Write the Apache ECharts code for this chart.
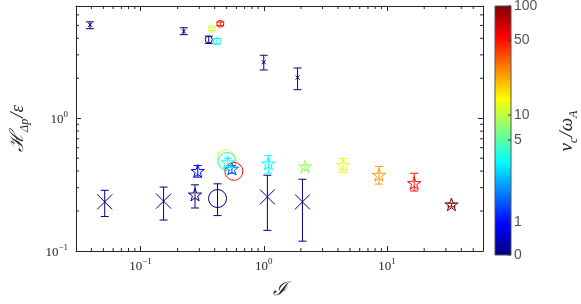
<!DOCTYPE html>
<html><head><meta charset="utf-8">
<script src="https://cdn.jsdelivr.net/npm/echarts@6/dist/echarts.min.js"></script>
<style>html,body{margin:0;padding:0;background:#fff}#c{width:581px;height:304px}</style>
</head><body><div id="c"></div>
<script>
// ---------------- data ----------------
// small "x" markers (upper group)
const smallX_I  = [0.039, 0.2245, 1.0, 1.88];
const smallX_H  = [5.05, 4.51, 2.64, 2.02];
const smallX_lo = [4.72, 4.26, 2.31, 1.64];
const smallX_hi = [5.32, 4.80, 2.98, 2.39];
const smallX_nu = [0, 0, 0, 0];

// small circles (upper group)
const smallO_I  = [0.358, 0.417, 0.381, 0.444];
const smallO_H  = [3.91, 3.80, 4.72, 5.14];
const smallO_lo = [3.66, 3.62, 4.58, 4.98];
const smallO_hi = [4.15, 3.98, 4.86, 5.30];
const smallO_nu = [0, 4, 12, 50];

// large "x" markers (lower group)
const bigX_I  = [0.0513, 0.154, 1.07, 2.06];
const bigX_H  = [0.2344, 0.2374, 0.2555, 0.2344];
const bigX_lo = [0.1817, 0.171, 0.143, 0.1186];
const bigX_hi = [0.2864, 0.303, 0.372, 0.347];
const bigX_nu = [0, 0, 0, 0];

// large circles (lower group)
const bigO_I  = [0.4217, 0.494, 0.503, 0.572];
const bigO_H  = [0.2483, 0.497, 0.472, 0.398];
const bigO_lo = [0.1848, 0.497, 0.472, 0.398];
const bigO_hi = [0.3206, 0.497, 0.472, 0.398];
const bigO_nu = [0, 16, 4, 50];

// pentagrams (lower group)
const star_I  = [0.277, 0.2914, 0.5515, 0.51, 1.089, 2.16, 4.40, 8.6, 16.6, 33.3];
const star_H  = [0.263, 0.396, 0.412, 0.46, 0.451, 0.4266, 0.4388, 0.370, 0.3206, 0.2218];
const star_lo = [0.2108, 0.36, 0.385, 0.43, 0.385, 0.41, 0.391, 0.319, 0.283, 0.215];
const star_hi = [0.315, 0.44, 0.44, 0.50, 0.523, 0.445, 0.497, 0.4335, 0.385, 0.229];
const star_nu = [0, 1, 2, 4, 4, 8, 16, 32, 50, 100];

// colour bar ticks (value and relative position along the bar)
const cbTickValues = [0, 1, 5, 10, 50, 100];
const cbTickPos    = [0, 0.133, 0.462, 0.562, 0.863, 1];

// ---------------- helpers ----------------
const AX = '#262626';
const SERIF = "'Liberation Serif','DejaVu Serif',serif";
const SANS = "'Liberation Sans','DejaVu Sans',sans-serif";

function nuToPos(nu) {
  const n = cbTickValues.length;
  if (nu <= cbTickValues[0]) return 0;
  if (nu >= cbTickValues[n - 1]) return 1;
  for (let i = 0; i < n - 1; i++) {
    if (nu <= cbTickValues[i + 1]) {
      const t = (nu - cbTickValues[i]) / (cbTickValues[i + 1] - cbTickValues[i]);
      return cbTickPos[i] + t * (cbTickPos[i + 1] - cbTickPos[i]);
    }
  }
  return 1;
}
function clamp(v) { return Math.max(0, Math.min(1, v)); }
function jet(p) {
  const r = clamp(1.5 - Math.abs(4 * p - 3));
  const g = clamp(1.5 - Math.abs(4 * p - 2));
  const b = clamp(1.5 - Math.abs(4 * p - 1));
  return 'rgb(' + Math.round(r * 255) + ',' + Math.round(g * 255) + ',' + Math.round(b * 255) + ')';
}

function starPoints(cx, cy, R) {
  const pts = [];
  const r = R * 0.382;
  for (let k = 0; k < 10; k++) {
    const a = -Math.PI / 2 + k * Math.PI / 5;
    const rr = k % 2 === 0 ? R : r;
    pts.push([cx + rr * Math.cos(a), cy + rr * Math.sin(a)]);
  }
  return pts;
}

function markerSeries(name, I, H, lo, hi, nu, shape, size) {
  return {
    name: name,
    type: 'custom',
    xAxisIndex: 0, yAxisIndex: 0,
    encode: { x: 0, y: 1 },
    data: I.map((x, i) => [x, H[i], lo[i], hi[i], nu[i]]),
    renderItem: function (params, api) {
      const x = api.value(0);
      const p = api.coord([x, api.value(1)]);
      const pl = api.coord([x, api.value(2)]);
      const ph = api.coord([x, api.value(3)]);
      const c = jet(nuToPos(api.value(4)));
      const st = { stroke: c, fill: 'none', lineWidth: 1 };
      const ch = [];
      if (Math.abs(pl[1] - ph[1]) > 0.5) {
        const cw = 4;
        ch.push({ type: 'line', shape: { x1: p[0], y1: pl[1], x2: p[0], y2: ph[1] }, style: st });
        ch.push({ type: 'line', shape: { x1: p[0] - cw, y1: pl[1], x2: p[0] + cw, y2: pl[1] }, style: st });
        ch.push({ type: 'line', shape: { x1: p[0] - cw, y1: ph[1], x2: p[0] + cw, y2: ph[1] }, style: st });
      }
      if (shape === 'x') {
        ch.push({ type: 'line', shape: { x1: p[0] - size, y1: p[1] - size, x2: p[0] + size, y2: p[1] + size }, style: st });
        ch.push({ type: 'line', shape: { x1: p[0] - size, y1: p[1] + size, x2: p[0] + size, y2: p[1] - size }, style: st });
      } else if (shape === 'circle') {
        ch.push({ type: 'circle', shape: { cx: p[0], cy: p[1], r: size }, style: st });
      } else {
        ch.push({ type: 'polygon', shape: { points: starPoints(p[0], p[1], size) }, style: st });
      }
      return { type: 'group', children: ch };
    }
  };
}

// minor ticks of the log axes (2..9 x 10^k)
const X_MIN = 0.03, X_MAX = 60, Y_MIN = 0.1, Y_MAX = 7;
function minorValues(a, b) {
  const out = [];
  for (let k = -3; k <= 3; k++) {
    for (let m = 2; m <= 9; m++) {
      const v = m * Math.pow(10, k);
      if (v > a * 1.0001 && v < b * 0.9999) out.push(v);
    }
  }
  return out;
}

function powFmt(v) {
  const l = Math.log10(v);
  const e = Math.round(l);
  if (Math.abs(l - e) > 1e-6) return '';
  return '{b|10}{s|' + (e < 0 ? '\u2212' + (-e) : e) + '}';
}
const powRich = {
  b: { fontFamily: SERIF, fontSize: 13, color: AX, verticalAlign: 'bottom', padding: [3, 0, 0, 0] },
  s: { fontFamily: SERIF, fontSize: 9, color: AX, verticalAlign: 'top' }
};

const chart = echarts.init(document.getElementById('c'), null, { renderer: 'canvas' });

const logAxisBase = {
  type: 'log', logBase: 10,
  axisLine: { show: true, lineStyle: { color: AX, width: 1 } },
  axisTick: { show: true, inside: true, length: 5, lineStyle: { color: AX } },
  splitLine: { show: false },
  minorTick: { show: false }
};

const option = {
  backgroundColor: '#fff',
  animation: false,
  grid: [
    { left: 67, right: 98, top: 6, bottom: 49 },
    { left: 495, width: 26, top: 6, height: 249 }
  ],
  xAxis: [
    Object.assign({}, logAxisBase, {
      gridIndex: 0, min: X_MIN, max: X_MAX, position: 'bottom',
      axisLabel: { formatter: powFmt, rich: powRich, margin: 6, showMinLabel: false, showMaxLabel: false },
      name: '\u2110', nameLocation: 'middle', nameGap: 29,
      nameTextStyle: { fontFamily: SERIF, fontSize: 19, fontStyle: 'italic', color: AX }
    }),
    Object.assign({}, logAxisBase, {
      gridIndex: 0, min: X_MIN, max: X_MAX, position: 'top', axisLabel: { show: false }
    }),
    { gridIndex: 1, type: 'value', min: 0, max: 1, show: false }
  ],
  yAxis: [
    Object.assign({}, logAxisBase, {
      gridIndex: 0, min: Y_MIN, max: Y_MAX, position: 'left',
      axisLabel: { formatter: powFmt, rich: powRich, margin: 8, showMinLabel: true, showMaxLabel: false },
      name: '{h|\u210B}{sub|\u0394p}{n|/\u03B5}', nameLocation: 'middle', nameGap: 45, nameRotate: 90,
      nameTextStyle: {
        color: AX,
        rich: {
          h: { fontFamily: SERIF, fontSize: 19, fontStyle: 'italic', color: AX, verticalAlign: 'top' },
          sub: { fontFamily: SERIF, fontSize: 12, fontStyle: 'italic', color: AX, verticalAlign: 'top', padding: [11, 1, 0, 0] },
          n: { fontFamily: SERIF, fontSize: 19, fontStyle: 'italic', color: AX, verticalAlign: 'top' }
        }
      }
    }),
    Object.assign({}, logAxisBase, {
      gridIndex: 0, min: Y_MIN, max: Y_MAX, position: 'right', axisLabel: { show: false }
    }),
    {
      gridIndex: 1, type: 'value', min: 0, max: 1, position: 'right',
      axisLine: { show: false }, axisTick: { show: false }, axisLabel: { show: false }, splitLine: { show: false },
      name: '{v|\u03BD}{sub|c}{v|/\u03C9}{sub|A}', nameLocation: 'middle', nameRotate: 90, nameGap: 46,
      nameTextStyle: {
        color: AX,
        rich: {
          v: { fontFamily: SERIF, fontSize: 19, fontStyle: 'italic', color: AX, verticalAlign: 'top' },
          sub: { fontFamily: SERIF, fontSize: 12, fontStyle: 'italic', color: AX, verticalAlign: 'top', padding: [11, 1, 0, 0] }
        }
      }
    }
  ],
  series: [
    // minor ticks on x
    {
      type: 'custom', xAxisIndex: 0, yAxisIndex: 0, silent: true, z: 5,
      data: minorValues(X_MIN, X_MAX).map(v => [v, Y_MIN]),
      renderItem: function (params, api) {
        const cs = params.coordSys;
        const p = api.coord([api.value(0), Y_MIN]);
        const st = { stroke: AX, lineWidth: 1 };
        return { type: 'group', children: [
          { type: 'line', shape: { x1: p[0], y1: cs.y + cs.height, x2: p[0], y2: cs.y + cs.height - 3 }, style: st },
          { type: 'line', shape: { x1: p[0], y1: cs.y, x2: p[0], y2: cs.y + 3 }, style: st }
        ] };
      }
    },
    // minor ticks on y
    {
      type: 'custom', xAxisIndex: 0, yAxisIndex: 0, silent: true, z: 5,
      data: minorValues(Y_MIN, Y_MAX).map(v => [X_MIN, v]),
      renderItem: function (params, api) {
        const cs = params.coordSys;
        const p = api.coord([X_MIN, api.value(1)]);
        const st = { stroke: AX, lineWidth: 1 };
        return { type: 'group', children: [
          { type: 'line', shape: { x1: cs.x, y1: p[1], x2: cs.x + 3, y2: p[1] }, style: st },
          { type: 'line', shape: { x1: cs.x + cs.width, y1: p[1], x2: cs.x + cs.width - 3, y2: p[1] }, style: st }
        ] };
      }
    },
    markerSeries('smallX', smallX_I, smallX_H, smallX_lo, smallX_hi, smallX_nu, 'x', 2),
    markerSeries('smallO', smallO_I, smallO_H, smallO_lo, smallO_hi, smallO_nu, 'circle', 3.5),
    markerSeries('bigX', bigX_I, bigX_H, bigX_lo, bigX_hi, bigX_nu, 'x', 7.5),
    markerSeries('bigO', bigO_I, bigO_H, bigO_lo, bigO_hi, bigO_nu, 'circle', 9),
    markerSeries('star', star_I, star_H, star_lo, star_hi, star_nu, 'star', 7),
    // colour bar
    {
      type: 'custom', xAxisIndex: 2, yAxisIndex: 2, silent: true,
      data: [[0.5, 0.5]],
      renderItem: function (params, api) {
        const cs = params.coordSys;
        const stops = [];
        for (let i = 0; i <= 64; i++) stops.push({ offset: i / 64, color: jet(i / 64) });
        const ch = [{
          type: 'rect',
          shape: { x: cs.x, y: cs.y, width: cs.width, height: cs.height },
          style: { fill: new echarts.graphic.LinearGradient(0, 1, 0, 0, stops), stroke: '#555', lineWidth: 1 }
        }];
        cbTickPos.forEach(function (tp) {
          const yy = api.coord([1, tp])[1];
          ch.push({ type: 'line', shape: { x1: cs.x + cs.width, y1: yy, x2: cs.x + cs.width - 3, y2: yy },
            style: { stroke: '#333', lineWidth: 1 } });
        });
        return { type: 'group', children: ch };
      }
    },
    // colour bar tick labels
    {
      type: 'scatter', xAxisIndex: 2, yAxisIndex: 2, silent: true, symbolSize: 0,
      data: cbTickPos.map((tp, i) => ({ value: [1, tp], name: String(cbTickValues[i]) })),
      label: { show: true, position: 'right', distance: 3, formatter: '{b}', fontFamily: SANS, fontSize: 14, color: AX }
    }
  ]
};
chart.setOption(option);
</script>
</body></html>
